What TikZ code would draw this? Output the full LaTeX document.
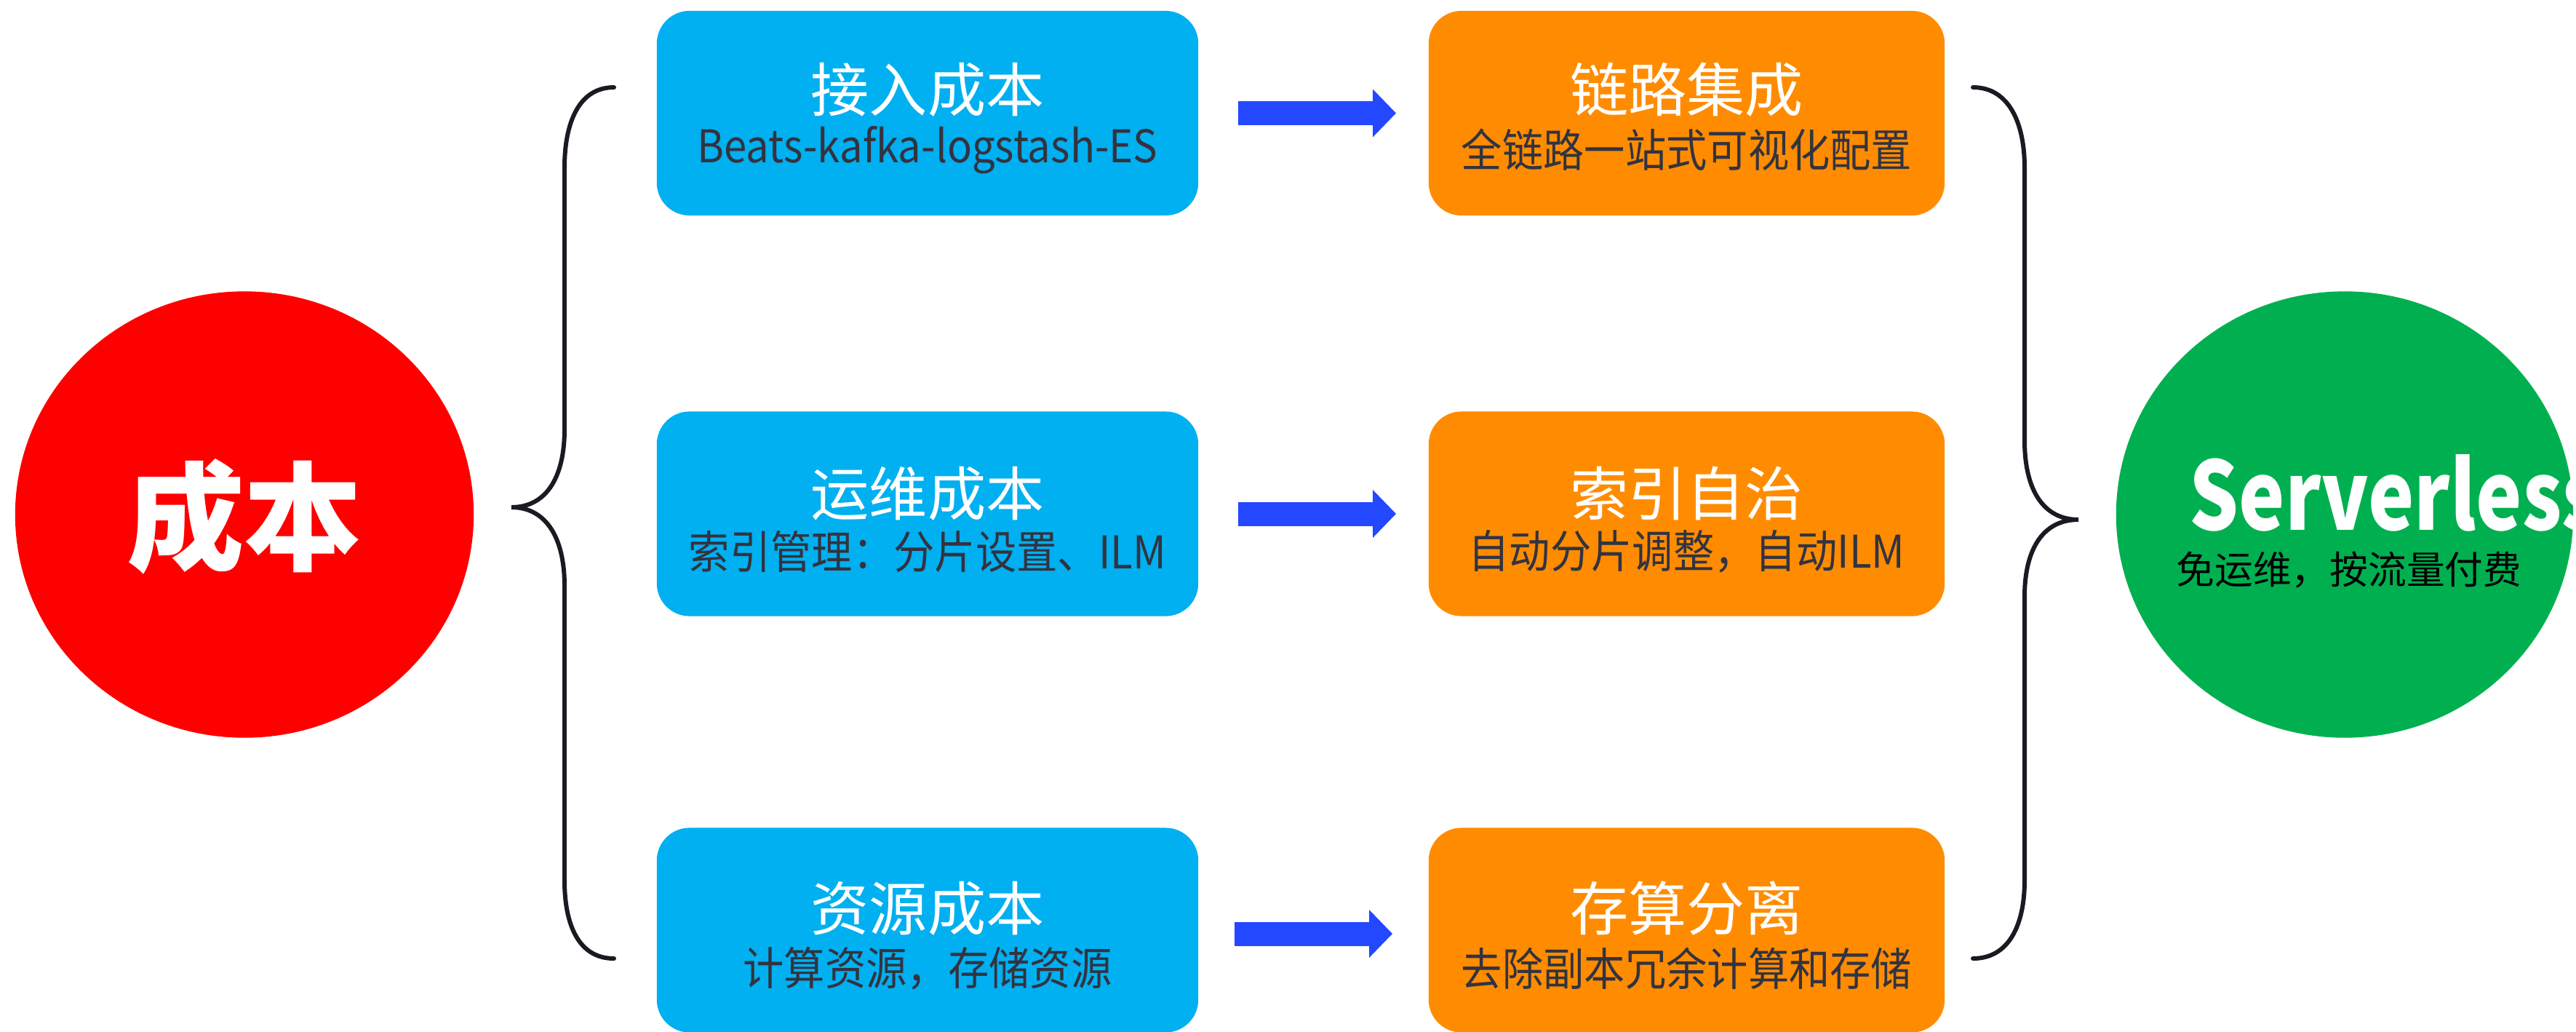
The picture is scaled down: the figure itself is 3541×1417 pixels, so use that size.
\documentclass[tikz,border=0pt]{standalone}
\usepackage{fontspec}
\setmainfont{Noto Sans CJK SC}
\newfontfamily\subfont[FakeStretch=0.91]{Noto Sans CJK SC}
\newfontfamily\slfont[FakeStretch=0.82]{Noto Sans CJK SC}
\usetikzlibrary{arrows.meta,shapes.geometric}
\definecolor{boxblue}{HTML}{00B0F0}
\definecolor{boxorange}{HTML}{FF8C00}
\definecolor{redc}{HTML}{FF0000}
\definecolor{greenc}{HTML}{00B050}
\definecolor{arrowblue}{HTML}{2348FF}
\definecolor{subtxt}{HTML}{333340}
\definecolor{bracec}{HTML}{1A1A22}
\begin{document}
\begin{tikzpicture}[x=0.01cm,y=-0.01cm,
  bluebox/.style={rounded corners=0.45cm, fill=boxblue, minimum width=7.44cm, minimum height=2.81cm, inner sep=0},
  orangebox/.style={rounded corners=0.45cm, fill=boxorange, minimum width=7.09cm, minimum height=2.81cm, inner sep=0},
  titletxt/.style={text=white, font=\fontsize{22.8pt}{26pt}\selectfont, inner sep=0},
  subtitletxt/.style={text=subtxt, font=\subfont\fontsize{17.6pt}{20pt}\selectfont, inner sep=0},
  bigarrow/.style={draw=arrowblue, line width=0.33cm, -{Triangle[length=0.32cm,width=0.64cm]}},
  bracepath/.style={draw=bracec, line width=1.7pt, line cap=round}]
\useasboundingbox (0,0) rectangle (3541,1417);

% circles
\node[ellipse, fill=redc, minimum width=6.30cm, minimum height=6.13cm, inner sep=0] (cost) at (336,707) {};
\node[text=white, inner sep=0, font=\fontsize{46pt}{50pt}\selectfont\bfseries] (costtxt) at (336,710) {成本};
\node[ellipse, fill=greenc, minimum width=6.28cm, minimum height=6.13cm, inner sep=0] (sl) at (3223,707) {};
\node[text=white, inner sep=0, anchor=west, font=\slfont\fontsize{37pt}{40pt}\selectfont\bfseries] (sltxt) at (3009,677) {Serverless};
\node[text=black, inner sep=0, font=\fontsize{15pt}{18pt}\selectfont] (slsub) at (3229,783) {免运维，按流量付费};

% blue boxes
\node[bluebox] (b1) at (1275,155.5) {};
\node[bluebox] (b2) at (1275,706) {};
\node[bluebox] (b3) at (1275,1278) {};
\node[titletxt] (b1t) at (1275,123) {接入成本};
\node[subtitletxt] (b1s) at (1275,206) {Beats-kafka-logstash-ES};
\node[titletxt] (b2t) at (1275,678) {运维成本};
\node[subtitletxt] (b2s) at (1275,758) {索引管理：分片设置、ILM};
\node[titletxt] (b3t) at (1275,1248) {资源成本};
\node[subtitletxt] (b3s) at (1275,1331) {计算资源，存储资源};

% orange boxes
\node[orangebox] (o1) at (2318.5,155.5) {};
\node[orangebox] (o2) at (2318.5,706) {};
\node[orangebox] (o3) at (2318.5,1278) {};
\node[titletxt] (o1t) at (2318.5,123) {链路集成};
\node[subtitletxt] (o1s) at (2318.5,206) {全链路一站式可视化配置};
\node[titletxt] (o2t) at (2318.5,678) {索引自治};
\node[subtitletxt] (o2s) at (2318.5,758) {自动分片调整，自动ILM};
\node[titletxt] (o3t) at (2318.5,1248) {存算分离};
\node[subtitletxt] (o3s) at (2318.5,1331) {去除副本冗余计算和存储};

% arrows
\draw[bigarrow] ([xshift=0.54cm]b1.east) -- ([xshift=-0.44cm]o1.west);
\draw[bigarrow] ([xshift=0.54cm]b2.east) -- ([xshift=-0.44cm]o2.west);
\draw[bigarrow] ([xshift=0.49cm,yshift=-0.05cm]b3.east) -- ([xshift=-0.49cm,yshift=-0.05cm]o3.west);

% left brace
\coordinate (lbt) at (844,120);
\coordinate (lbm) at (703,697);
\coordinate (lbb) at (844,1317);
\draw[bracepath] (lbt) .. controls (795,120) and (776,170) .. (776,230)
  -- (776,590) .. controls (776,660) and (748,697) .. (lbm)
  .. controls (748,697) and (776,735) .. (776,805)
  -- (776,1210) .. controls (776,1270) and (795,1317) .. (lbb);

% right brace
\coordinate (rbt) at (2712,120);
\coordinate (rbm) at (2857,714);
\coordinate (rbb) at (2712,1317);
\draw[bracepath] (rbt) .. controls (2762,120) and (2783,170) .. (2783,230)
  -- (2783,605) .. controls (2783,675) and (2810,714) .. (rbm)
  .. controls (2810,714) and (2783,752) .. (2783,820)
  -- (2783,1210) .. controls (2783,1270) and (2762,1317) .. (rbb);
\end{tikzpicture}
\end{document}
